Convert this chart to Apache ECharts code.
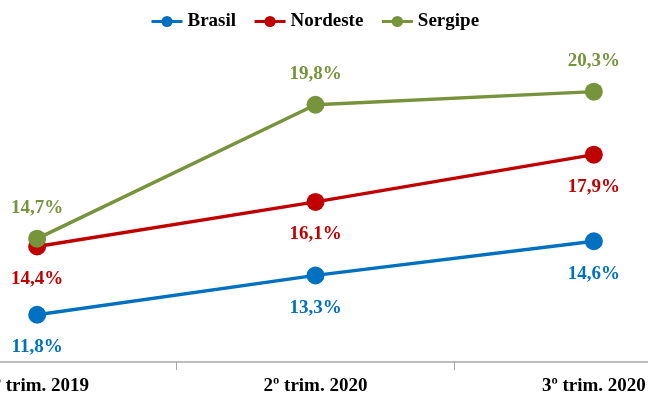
<!DOCTYPE html>
<html>
<head>
<meta charset="utf-8">
<script src="https://cdn.jsdelivr.net/npm/echarts@6/dist/echarts.min.js"></script>
<style>
  html, body { margin: 0; padding: 0; background: #ffffff; }
  #chart { width: 648px; height: 398px; }
</style>
</head>
<body>
<div id="chart"></div>
<script>
// Taxa de desocupação por trimestre (%)
const categories = ['3º trim. 2019', '2º trim. 2020', '3º trim. 2020'];
const brasil = [11.8, 13.3, 14.6];
const nordeste = [14.4, 16.1, 17.9];
const sergipe = [14.7, 19.8, 20.3];

const FONT = '"Liberation Serif", "Times New Roman", serif';

function pct(v) {
  return v.toFixed(1).replace('.', ',') + '%';
}

function lineSeries(name, data, color, labelPos, dist) {
  return {
    name: name,
    type: 'line',
    data: data,
    symbol: 'circle',
    symbolSize: 18,
    lineStyle: { color: color, width: 3.5 },
    itemStyle: { color: color },
    label: {
      show: true,
      position: labelPos,
      distance: dist,
      color: color,
      fontFamily: FONT,
      fontWeight: 'bold',
      fontSize: 19,
      formatter: p => pct(p.value)
    },
    emphasis: { disabled: true },
    animation: false
  };
}

const chart = echarts.init(document.getElementById('chart'), null, { renderer: 'canvas' });
chart.setOption({
  backgroundColor: '#ffffff',
  animation: false,
  legend: {
    top: 7,
    left: 145,
    itemWidth: 31,
    itemHeight: 14,
    itemGap: 17,
    lineStyle: { width: 3 },
    textStyle: { fontFamily: FONT, fontWeight: 'bold', fontSize: 19, color: '#000000' },
    data: ['Brasil', 'Nordeste', 'Sergipe']
  },
  // the plot area runs past both canvas edges so the outer categories sit near the borders
  grid: { left: -102, right: -85, top: 47, bottom: 36, containLabel: false, outerBoundsMode: 'none' },
  xAxis: {
    type: 'category',
    data: categories,
    boundaryGap: true,
    axisLine: { lineStyle: { color: '#a6a6a6', width: 1.5 } },
    axisTick: { show: true, length: 8, lineStyle: { color: '#a6a6a6', width: 1 } },
    axisLabel: {
      margin: 15,
      color: '#000000',
      fontFamily: FONT,
      fontWeight: 'bold',
      fontSize: 19
    }
  },
  yAxis: {
    type: 'value',
    min: 10,
    max: 22,
    show: false,
    splitLine: { show: false }
  },
  series: [
    lineSeries('Brasil', brasil, '#0070C0', 'bottom', 14),
    lineSeries('Nordeste', nordeste, '#C00000', 'bottom', 14),
    lineSeries('Sergipe', sergipe, '#77933C', 'top', 12)
  ]
});
</script>
</body>
</html>
